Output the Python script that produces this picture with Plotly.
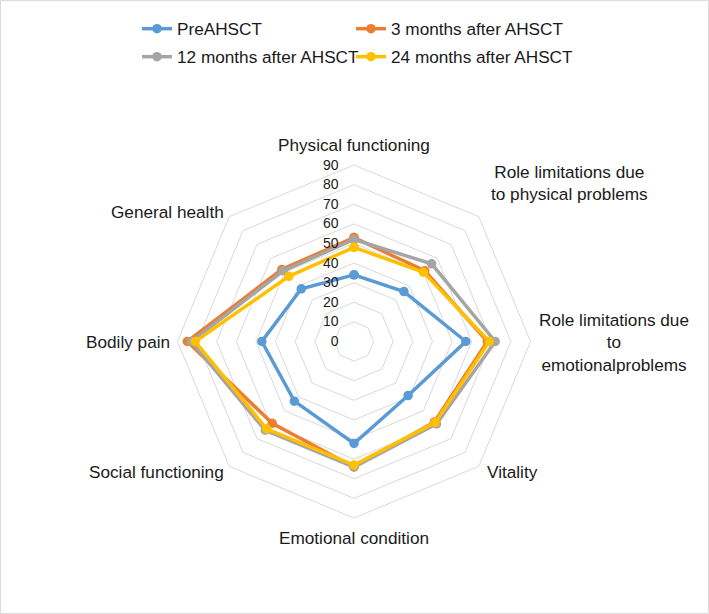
import plotly.graph_objects as go

categories = ["Physical functioning",
              "Role limitations due to physical problems",
              "Role limitations due to emotionalproblems",
              "Vitality", "Emotional condition", "Social functioning",
              "Bodily pain", "General health"]
category_labels = ["Physical functioning",
                   "Role limitations due<br>to physical problems",
                   "Role limitations due<br>to<br>emotionalproblems",
                   "Vitality", "Emotional condition", "Social functioning",
                   "Bodily pain", "General health"]
series_names = ["PreAHSCT", "3 months after AHSCT",
                "12 months after AHSCT", "24 months after AHSCT"]
pre_ahsct = [34, 36, 57, 39, 52, 43, 47, 38]
months_3 = [53, 51, 68, 58, 64, 59, 85, 52]
months_12 = [52, 56, 72, 59.5, 64, 64, 83, 51]
months_24 = [48, 50, 69, 58.5, 63, 63, 81, 47]
radial_ticks = list(range(0, 100, 10))

colors = ["#5B9BD5", "#ED7D31", "#A5A5A5", "#FFC000"]
legend_ids = ["legend", "legend2", "legend3", "legend4"]
legend_xy = [(137, 29), (351, 29), (137, 57), (351, 57)]  # px from top-left
FONT = "Liberation Sans"
FS = 17.2
W, H = 709, 614
CX, CY, R = 354, 341.5, 176.5  # polar center / radius in px

fig = go.Figure()
for name, vals, col, lg in zip(series_names,
                               [pre_ahsct, months_3, months_12, months_24],
                               colors, legend_ids):
    fig.add_trace(go.Scatterpolar(
        r=vals + vals[:1], theta=categories + categories[:1],
        mode="lines+markers", name=name, legend=lg, showlegend=True,
        line=dict(color=col, width=3.5),
        marker=dict(color=col, size=9.5),
    ))

# label placement (px from top-left of page)
label_pos = [(354, 145), (569, 183), (614, 342), (512, 472),
             (354, 538), (156, 472), (128, 342), (167, 212)]
for txt, (x, y) in zip(category_labels, label_pos):
    fig.add_annotation(text=txt, x=x / W, y=1 - y / H, xref="paper", yref="paper",
                       showarrow=False, xanchor="center", yanchor="middle",
                       align="center", font=dict(family=FONT, size=FS, color="#1a1a1a"))

legend_layout = {}
for lg, (lx, ly) in zip(legend_ids, legend_xy):
    legend_layout[lg] = dict(orientation="h", xanchor="left", yanchor="middle",
                             x=lx / W, y=1 - ly / H, bgcolor="rgba(0,0,0,0)",
                             visible=True,
                             font=dict(family=FONT, size=FS, color="#1a1a1a"))

fig.update_layout(
    width=W, height=H,
    showlegend=True,
    margin=dict(l=0, r=0, t=0, b=0),
    paper_bgcolor="white",
    font=dict(family=FONT, size=FS, color="#1a1a1a"),
    polar=dict(
        domain=dict(x=[(CX - R) / W, (CX + R) / W],
                    y=[1 - (CY + R) / H, 1 - (CY - R) / H]),
        gridshape="linear",
        bgcolor="white",
        radialaxis=dict(range=[0, 90], tickvals=radial_ticks, angle=90,
                        showline=False, ticks="outside", ticklen=10,
                        tickcolor="rgba(0,0,0,0)", gridcolor="#D9D9D9", gridwidth=1,
                        tickfont=dict(family=FONT, size=14, color="#1a1a1a"),
                        side="counterclockwise", tickangle=90),
        angularaxis=dict(rotation=90, direction="clockwise", showgrid=False,
                         showline=True, linecolor="#D9D9D9", linewidth=1,
                         ticks="", showticklabels=False),
    ),
    shapes=[dict(type="rect", xref="paper", yref="paper", x0=0.0008, y0=0.001,
                 x1=0.9992, y1=0.999, line=dict(color="#D9D9D9", width=1))],
    **legend_layout,
)

fig.write_html("out.html", config={"displayModeBar": False},
               post_script="document.body.style.margin='0';")
